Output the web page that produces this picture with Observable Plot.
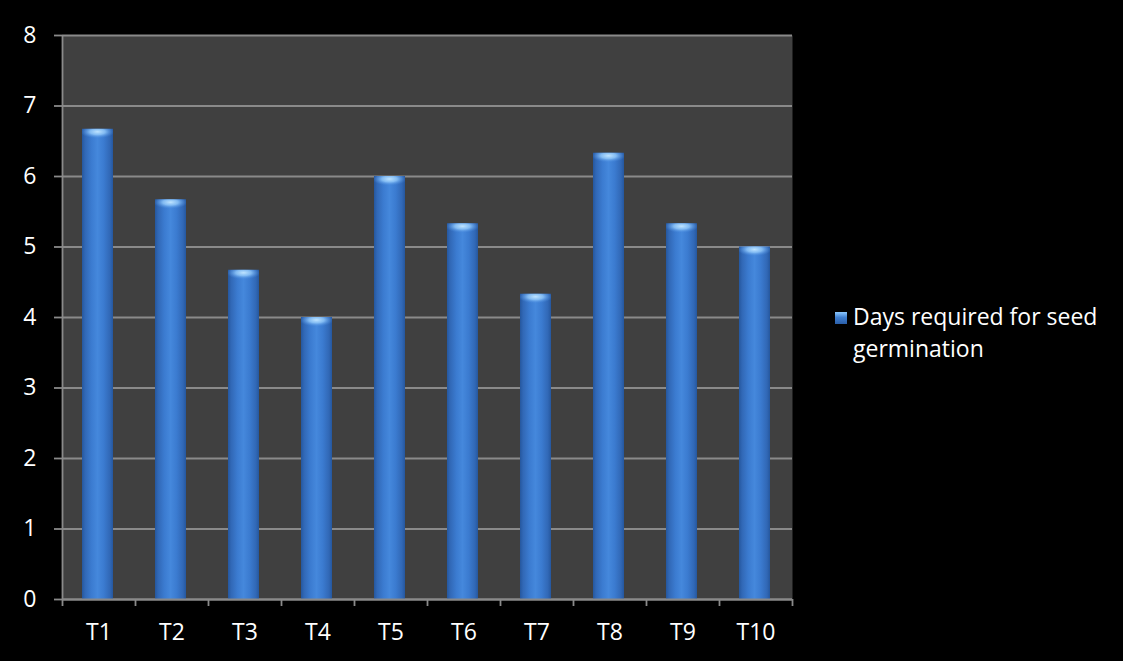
<!DOCTYPE html>
<html>
<head>
<meta charset="utf-8">
<script src="https://cdn.jsdelivr.net/npm/d3@7"></script>
<script src="https://cdn.jsdelivr.net/npm/@observablehq/plot@0.6"></script>
<style>
  html, body { margin: 0; padding: 0; background: #000; }
  #chart { position: relative; width: 1123px; height: 661px; overflow: hidden; }
  #chart svg text { font-family: "Open Sans", Lato, sans-serif !important; font-size: 23px !important; }
  .legend { position: absolute; left: 835px; top: 300px; color: #fff;
            font: 23px "Open Sans", Lato, sans-serif; line-height: 32px; }
  .legend .swatch { position: absolute; left: 0; top: 12px; width: 12px; height: 12px;
            background: linear-gradient(to bottom, #8cc8ff 0%, #3f7fd0 45%, #2a5ea8 100%); }
  .legend .label { margin-left: 18px; width: 270px; }
</style>
</head>
<body>
<div id="chart"></div>
<script>
// Treatments and the mean number of days each needed for seeds to germinate
const categories = ["T1", "T2", "T3", "T4", "T5", "T6", "T7", "T8", "T9", "T10"];
const days = [6.67, 5.67, 4.67, 4.0, 6.0, 5.33, 4.33, 6.33, 5.33, 5.0];
const yTicks = [0, 1, 2, 3, 4, 5, 6, 7, 8];
const seriesName = "Days required for seed germination";

const data = categories.map((c, i) => ({ i, name: c, value: days[i] }));
const font = "'Open Sans', Lato, sans-serif";

const plot = Plot.plot({
  width: 1123,
  height: 661,
  marginLeft: 62,
  marginRight: 331,
  marginTop: 35,
  marginBottom: 62,
  style: { background: "#000", color: "#fff", fontFamily: font, fontSize: "23px" },
  x: { domain: [0, categories.length] },
  y: { domain: [0, 8] },
  marks: [
    Plot.frame({ fill: "#404040", stroke: null }),
    Plot.gridY(yTicks, { stroke: "#8a8a8a", strokeOpacity: 1, strokeWidth: 1.8 }),
    // bar bodies with a horizontal cylinder shading
    Plot.rectY(data, {
      x1: "i", x2: d => d.i + 1, y: "value",
      insetLeft: 20, insetRight: 22,
      fill: "url(#barBody)"
    }),
    // soft highlight at the top of each bar
    Plot.rectY(data, {
      x1: "i", x2: d => d.i + 1, y1: d => d.value - 0.17, y2: "value",
      insetLeft: 20, insetRight: 22,
      fill: "url(#barCap)"
    }),
    Plot.ruleX([0], { stroke: "#8a8a8a", strokeWidth: 1.8 }),
    Plot.ruleY([0], { stroke: "#8a8a8a", strokeWidth: 1.8 }),
    Plot.axisY(yTicks, {
      tickSize: 8, tickPadding: 18, stroke: "#8a8a8a", strokeWidth: 1.8, fill: "#fff",
      label: null, tickFormat: d => String(d)
    }),
    // category boundary ticks
    Plot.axisX(d3.range(0, categories.length + 1), {
      tickSize: 7, stroke: "#8a8a8a", strokeWidth: 1.8, tickFormat: () => "", label: null
    }),
    // category labels centred in each slot
    Plot.axisX(categories.map((c, i) => i + 0.5), {
      tickSize: 0, tickPadding: 24, fill: "#fff", label: null,
      tickFormat: d => categories[Math.floor(d)]
    })
  ]
});

// gradients used by the bars
const svg = d3.select(plot);
const defs = svg.insert("defs", ":first-child");
const body = defs.append("linearGradient").attr("id", "barBody")
  .attr("x1", "0").attr("x2", "1").attr("y1", "0").attr("y2", "0");
[[0, "#25579e"], [0.1, "#3168b6"], [0.3, "#3b7bd0"], [0.5, "#4588dc"],
 [0.7, "#3b7bd0"], [0.9, "#3168b6"], [1, "#25579e"]]
  .forEach(([o, c]) => body.append("stop").attr("offset", o).attr("stop-color", c));
const cap = defs.append("radialGradient").attr("id", "barCap")
  .attr("cx", "0.5").attr("cy", "0.25").attr("r", "0.55");
[[0, "#bfe4ff", 1], [0.45, "#8fc6f8", 0.85], [1, "#4a8ce0", 0]]
  .forEach(([o, c, a]) => cap.append("stop").attr("offset", o).attr("stop-color", c).attr("stop-opacity", a));

const chart = document.getElementById("chart");
chart.appendChild(plot);

const legend = document.createElement("div");
legend.className = "legend";
legend.innerHTML = `<div class="swatch"></div><div class="label"></div>`;
legend.querySelector(".label").textContent = seriesName;
chart.appendChild(legend);
</script>
</body>
</html>
